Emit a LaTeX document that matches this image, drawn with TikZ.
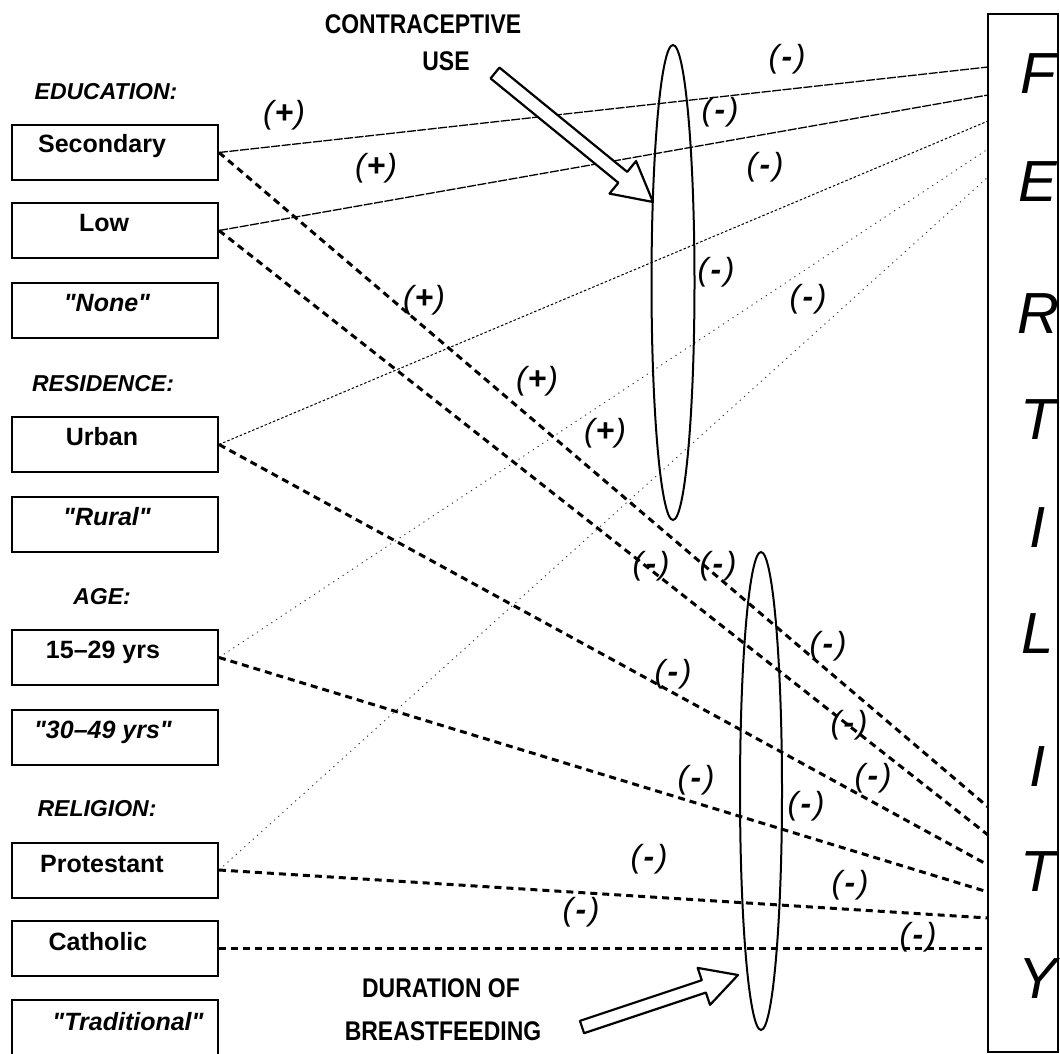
\documentclass[tikz,border=0pt]{standalone}
\usepackage{fontspec}
\setmainfont{Liberation Sans}[Ligatures=TeXOff]
\newfontfamily\narrowfont[FakeStretch=0.85]{Liberation Sans}
\usetikzlibrary{calc,shapes.geometric}
\newcommand\mneg{(\kern2.5pt\textbf{-}\kern2.5pt)}
\newcommand\mpos{(\kern1pt\textbf{+}\kern1pt)}
\newcommand\dq{{\char34}}
\tikzset{
  catbox/.style={draw, line width=2pt, minimum width=206pt, minimum height=55pt, inner sep=0pt},
  boxlab/.style={font=\fontsize{25}{28}\selectfont\bfseries, inner sep=0pt, anchor=base},
  boxlabit/.style={font=\fontsize{25}{28}\selectfont\bfseries\itshape, inner sep=0pt, anchor=base},
  cathead/.style={font=\fontsize{23}{26}\selectfont\bfseries\itshape, inner sep=0pt},
  titletext/.style={font=\narrowfont\fontsize{27}{30}\selectfont\bfseries, inner sep=0pt},
  sign/.style={font=\fontsize{32}{34}\selectfont\itshape, inner sep=0pt},
  fletter/.style={font=\fontsize{58}{60}\selectfont\itshape, inner sep=0pt},
  lens/.style={draw, ellipse, line width=2pt, inner sep=0pt},
  fertbox/.style={draw, line width=2.5pt, minimum width=70pt, minimum height=1038pt, inner sep=0pt},
  blockarrow/.style={draw, line width=2.2pt, fill=white, line join=round},
  culine/.style={line width=1.3pt, dash pattern=on 9pt off 1.5pt},
  urbline/.style={line width=1pt, dash pattern=on 2.5pt off 2pt},
  faintline/.style={line width=0.9pt, black!80, dash pattern=on 1.2pt off 4.5pt},
  bfline/.style={line width=3pt, dash pattern=on 7pt off 5pt},
}
\begin{document}
\begin{tikzpicture}[x=1pt,y=-1pt]
\useasboundingbox (0,0) rectangle (1060,1054);

% category headings
\node[cathead] (hedu) at (106,92) {EDUCATION:};
\node[cathead] (hres) at (103,384) {RESIDENCE:};
\node[cathead] (hage) at (102,597) {AGE:};
\node[cathead] (hrel) at (97,809) {RELIGION:};

% boxes
\node[catbox] (sec)   at (115,152.5) {};
\node[catbox] (low)   at (115,230.5) {};
\node[catbox] (none)  at (115,310.5) {};
\node[catbox] (urban) at (115,444.5) {};
\node[catbox] (rural) at (115,524.5) {};
\node[catbox] (ya)    at (115,657.5) {};
\node[catbox] (yb)    at (115,737) {};
\node[catbox] (prot)  at (115,870) {};
\node[catbox] (cath)  at (115,948.5) {};
\node[catbox] (trad)  at (115,1027) {};

\node[boxlab]   (tsec)   at (102,153) {Secondary};
\node[boxlab]   (tlow)   at (104,231) {Low};
\node[boxlabit] (tnone)  at (107,311) {\dq None\dq};
\node[boxlab]   (turban) at (102,445) {Urban};
\node[boxlabit] (trural) at (107,525) {\dq Rural\dq};
\node[boxlab]   (tya)    at (103,658) {15\textendash29 yrs};
\node[boxlabit] (tyb)    at (103,738) {\dq 30\textendash49 yrs\dq};
\node[boxlab]   (tprot)  at (102,872) {Protestant};
\node[boxlab]   (tcath)  at (98,950) {Catholic};
\node[boxlabit] (ttrad)  at (128,1030) {\dq Traditional\dq};

% fertility box
\node[fertbox] (fert) at (1023,533) {};
\foreach \l/\yy/\n in {F/74/l1, E/182/l2, R/314/l3, T/420/l4, I/528/l5, L/634/l6, I/767/l7, T/872/l8, Y/979/l9}
  \node[fletter] (\n) at (1038,\yy) {\l};

% end points on fertility box
\coordinate (f1) at (988,67);
\coordinate (f2) at (988,95);
\coordinate (f3) at (988,121);
\coordinate (f4) at (988,149);
\coordinate (f5) at (988,177);
\coordinate (d1) at (988,807);
\coordinate (d2) at (988,835);
\coordinate (d3) at (988,865);
\coordinate (d4) at (988,892);
\coordinate (d5) at (988,918);
\coordinate (d6) at (988,948.5);

% connectors through contraceptive use
\draw[culine] (sec.east) -- (f1);
\draw[culine] (low.east) -- (f2);
\draw[urbline] (urban.east) -- (f3);
\draw[faintline] (ya.east) -- (f4);
\draw[faintline] (prot.east) -- (f5);

% connectors through breastfeeding
\draw[bfline] (sec.east) -- (d1);
\draw[bfline] (low.east) -- (d2);
\draw[bfline] (urban.east) -- (d3);
\draw[bfline] (ya.east) -- (d4);
\draw[bfline] (prot.east) -- (d5);
\draw[bfline] (cath.east) -- (d6);

% lenses
\node[lens, minimum width=43pt, minimum height=475pt] (lens1) at (673,282.5) {};
\node[lens, minimum width=42pt, minimum height=478pt] (lens2) at (761,791) {};

% titles
\node[titletext] (ct1) at (423,24) {CONTRACEPTIVE};
\node[titletext] (ct2) at (446,61) {USE};
\node[titletext] (bf1) at (441,988) {DURATION OF};
\node[titletext] (bf2) at (443,1031) {BREASTFEEDING};

% block arrow 1
\coordinate (a1t) at (495,73);
\coordinate (a1p) at (653,202);
\coordinate (a1h) at ($(a1p)!39pt!(a1t)$);
\draw[blockarrow] ($(a1t)!7pt!90:(a1p)$) -- ($(a1h)!7pt!90:(a1p)$) -- ($(a1h)!21pt!90:(a1p)$)
  -- (a1p) -- ($(a1h)!21pt!-90:(a1p)$) -- ($(a1h)!7pt!-90:(a1p)$) -- ($(a1t)!7pt!-90:(a1p)$) -- cycle;

% block arrow 2
\coordinate (a2t) at (582,1027);
\coordinate (a2p) at (738,975);
\coordinate (a2h) at ($(a2p)!36pt!(a2t)$);
\draw[blockarrow] ($(a2t)!6.5pt!90:(a2p)$) -- ($(a2h)!6.5pt!90:(a2p)$) -- ($(a2h)!19.5pt!90:(a2p)$)
  -- (a2p) -- ($(a2h)!19.5pt!-90:(a2p)$) -- ($(a2h)!6.5pt!-90:(a2p)$) -- ($(a2t)!6.5pt!-90:(a2p)$) -- cycle;

% signs, upper group
\node[sign] (s1)  at (284,115) {\mpos};
\node[sign] (s2)  at (376,168) {\mpos};
\node[sign] (s3)  at (787,59)  {\mneg};
\node[sign] (s4)  at (720,112) {\mneg};
\node[sign] (s5)  at (765,167) {\mneg};
\node[sign] (s6)  at (716,272) {\mneg};
\node[sign] (s7)  at (808,299) {\mneg};
\node[sign] (s8)  at (424,300) {\mpos};
\node[sign] (s9)  at (537,381) {\mpos};
\node[sign] (s10) at (605,433) {\mpos};

% signs, lower group
\node[sign] (t1)  at (651,566) {\mneg};
\node[sign] (t2)  at (718,566) {\mneg};
\node[sign] (t3)  at (828,646) {\mneg};
\node[sign] (t4)  at (673,674) {\mneg};
\node[sign] (t5)  at (849,725) {\mneg};
\node[sign] (t6)  at (873,778) {\mneg};
\node[sign] (t7)  at (696,780) {\mneg};
\node[sign] (t8)  at (806,806) {\mneg};
\node[sign] (t9)  at (649,859) {\mneg};
\node[sign] (t10) at (850,885) {\mneg};
\node[sign] (t11) at (581,912) {\mneg};
\node[sign] (t12) at (918,937) {\mneg};
\end{tikzpicture}
\end{document}
